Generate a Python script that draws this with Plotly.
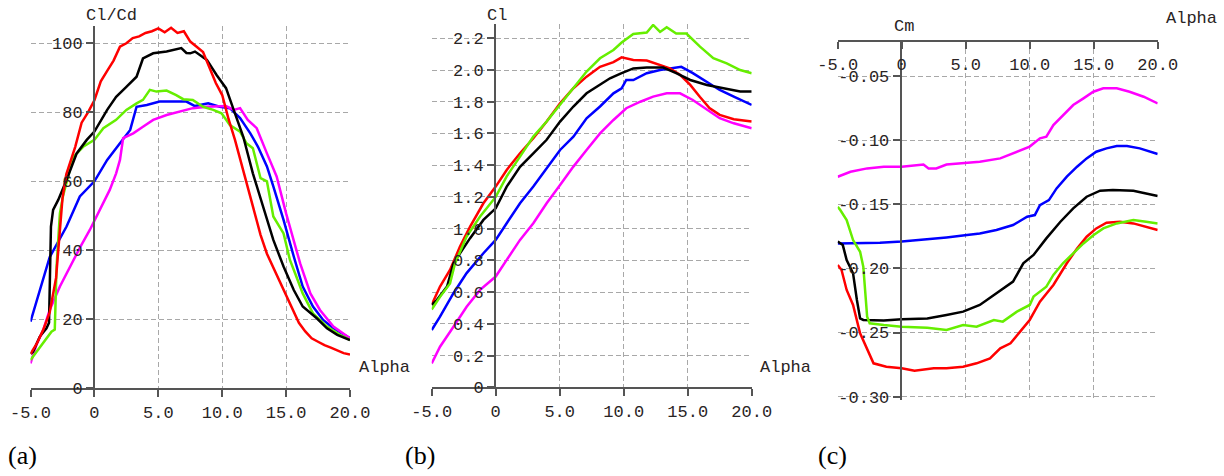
import plotly.graph_objects as go

# ---------------- data: panel (a) Cl/Cd vs Alpha ----------------
a_red_x = [-5, -4.5, -4, -3.5, -3, -2.7, -2.5, -2.2, -1.5, -1, -0.5, 0, 0.5, 1, 1.5, 2, 2.5, 3, 3.5, 4, 4.5, 5, 5.5, 6, 6.5, 7, 7.5, 8, 8.5, 9, 9.5, 10, 10.5, 11, 11.5, 12, 12.5, 13, 13.5, 14, 14.5, 15, 15.5, 16, 16.5, 17, 17.5, 18, 18.5, 19, 19.5, 20]
a_red_y = [10, 13, 17, 22, 32, 45, 55, 62, 70, 77, 80, 83.5, 89, 92, 95, 99, 100, 101.5, 102, 103, 103.5, 104.3, 103.2, 104.5, 103, 103.5, 100.5, 99, 97.5, 93, 88.5, 85, 78, 72, 65, 58, 51, 44.5, 39, 35, 30.5, 26.5, 22.5, 19, 16.5, 14.5, 13.5, 12.5, 11.8, 11, 10.2, 9.8]

a_blk_x = [-5, -4.8, -4.27, -3.75, -3.55, -3.4, -3.23, -2.83, -2.18, -1.4, -0.6, 0, 1, 1.7, 2.5, 3.3, 3.8, 4.6, 5.65, 6.8, 7.2, 7.5, 7.87, 8.8, 9.56, 10.3, 10.9, 11.65, 12.4, 13.2, 14, 14.8, 15.6, 16.3, 17.4, 18.2, 19, 20]
a_blk_y = [10, 10.6, 15, 17.4, 19, 46.9, 51.7, 54.6, 60.4, 68, 72, 74.4, 80.7, 84.5, 87.4, 90.3, 95.6, 97.1, 97.6, 98.6, 97.2, 97.1, 97.6, 95.2, 90.8, 87, 80.7, 72.9, 62.3, 52.7, 43, 35.3, 28.5, 23.7, 20.3, 17.4, 15.5, 14]

a_grn_x = [-5, -4.27, -3.36, -3.1, -2.96, -2.7, -2.44, -1.66, -0.88, 0, 0.7, 1.7, 2.5, 3.3, 3.8, 4.34, 4.86, 5.65, 6.4, 6.95, 7.7, 8.5, 9.3, 9.95, 10.6, 11.4, 11.9, 12.4, 13, 13.5, 14, 14.8, 15.3, 15.8, 16.3, 17.1, 18.2, 19.2, 20]
a_grn_y = [8.2, 12, 16.4, 17, 35.3, 50.7, 56, 67, 70, 72, 75.4, 77.8, 80.7, 82.6, 83.6, 86.5, 86, 86.3, 85, 83.8, 83.6, 81.6, 80.7, 79.7, 76.3, 74.4, 71, 69.6, 60.9, 60, 49.8, 44.9, 37.2, 32.4, 27.5, 21.7, 17.9, 15.5, 14]

a_blu_x = [-5, -4.5, -3.5, -2.18, -1.14, 0, 1, 2, 2.8, 3.3, 4.1, 5.1, 6.2, 7.2, 7.87, 8.9, 9.8, 10.6, 11.4, 12.2, 12.8, 13.5, 14, 14.8, 15.6, 16.3, 17.1, 17.9, 18.7, 20]
a_blu_y = [19.3, 25.6, 38, 46.9, 55.6, 60, 66.2, 71, 74.9, 81.6, 82.1, 83.1, 83.1, 83.1, 81.8, 82.6, 81.6, 81.2, 78.3, 73.9, 70, 64.3, 58.5, 48.8, 38.2, 29.5, 23.7, 19.8, 17.4, 14.5]

a_mag_x = [-5, -4.5, -4, -3.5, -2.7, -1.9, -1.1, -0.36, 0.43, 1.2, 1.7, 2.0, 2.25, 3.04, 3.8, 4.6, 5.65, 6.7, 7.7, 8.8, 9.8, 10.3, 10.9, 11.4, 12, 12.7, 13.5, 14.26, 15, 15.6, 16.1, 16.9, 17.65, 18.7, 20]
a_mag_y = [7.2, 13, 16.9, 22.7, 29.5, 35.3, 41, 45.9, 51.7, 57.5, 62.3, 66.2, 72.5, 73.9, 75.8, 77.8, 79.2, 80.2, 81.2, 81.6, 81.6, 81.8, 80.7, 81.2, 77.8, 75.4, 68.1, 61.4, 50.7, 43, 36.2, 27.5, 22.7, 17.9, 14.5]

# ---------------- data: panel (b) Cl vs Alpha ----------------
b_red_x = [-5, -4.35, -3.57, -2.79, -2, -0.96, 0, 0.86, 1.9, 2.94, 3.98, 5.03, 6.07, 7.1, 8.15, 9.2, 9.84, 10.75, 11.8, 12.84, 13.6, 14.4, 15.2, 15.96, 16.7, 17.5, 18.6, 20]
b_red_y = [0.52, 0.635, 0.74, 0.887, 1.013, 1.16, 1.265, 1.37, 1.475, 1.57, 1.675, 1.79, 1.885, 1.958, 2.02, 2.05, 2.08, 2.063, 2.06, 2.03, 2.01, 1.97, 1.906, 1.83, 1.76, 1.717, 1.69, 1.675]

b_grn_x = [-5, -4.35, -3.57, -3.18, -2.27, -1.22, 0, 0.86, 1.9, 2.94, 3.98, 5.03, 6.07, 7.1, 8.15, 9.2, 9.84, 10.75, 11.8, 12.3, 12.84, 13.36, 14.1, 14.9, 15.96, 17, 18.05, 19.1, 20]
b_grn_y = [0.49, 0.57, 0.655, 0.78, 0.95, 1.076, 1.2, 1.33, 1.454, 1.58, 1.675, 1.78, 1.885, 1.99, 2.074, 2.126, 2.173, 2.227, 2.236, 2.284, 2.24, 2.27, 2.23, 2.23, 2.147, 2.074, 2.042, 2.0, 1.98]

b_blk_x = [-5, -4.6, -3.8, -3.3, -2.79, -2, -0.96, 0, 0.86, 1.9, 2.94, 3.98, 5.03, 6.07, 7.1, 8.15, 8.93, 9.84, 10.75, 11.8, 13.1, 14.1, 15.2, 16.5, 17.8, 19.1, 20]
b_blk_y = [0.52, 0.55, 0.635, 0.78, 0.845, 0.94, 1.055, 1.128, 1.265, 1.39, 1.475, 1.56, 1.675, 1.77, 1.853, 1.906, 1.948, 1.98, 2.01, 2.015, 2.015, 1.98, 1.937, 1.906, 1.885, 1.864, 1.864]

b_blu_x = [-5, -4.35, -3.3, -2.27, -0.96, 0, 0.86, 1.9, 2.94, 3.98, 5.03, 6.07, 7.1, 8.15, 9.2, 9.84, 10.2, 10.75, 11.8, 12.84, 13.9, 14.5, 15.4, 16.5, 17.5, 18.6, 20]
b_blu_y = [0.361, 0.445, 0.593, 0.72, 0.845, 0.929, 1.034, 1.16, 1.265, 1.38, 1.496, 1.58, 1.696, 1.77, 1.853, 1.885, 1.937, 1.937, 1.98, 2.0, 2.01, 2.02, 1.98, 1.927, 1.874, 1.832, 1.78]

b_mag_x = [-5, -4.35, -3.3, -2.27, -1.22, 0, 0.86, 1.9, 2.94, 3.98, 5.03, 6.07, 7.1, 8.15, 9.2, 10.2, 11.3, 12.3, 13.36, 14.4, 15.4, 16.5, 17.5, 18.6, 20]
b_mag_y = [0.151, 0.256, 0.382, 0.508, 0.614, 0.698, 0.803, 0.929, 1.034, 1.16, 1.275, 1.391, 1.496, 1.6, 1.685, 1.759, 1.8, 1.832, 1.853, 1.853, 1.811, 1.748, 1.696, 1.664, 1.633]

# ---------------- data: panel (c) Cm vs Alpha ----------------
c_mag_x = [-5, -4, -2.7, -1.4, 0, 1.7, 2.1, 2.7, 3.5, 4.8, 6.1, 7.7, 8.7, 10, 10.8, 11.3, 11.85, 12.6, 13.4, 14.2, 14.97, 15.75, 16.8, 17.8, 18.9, 20]
c_mag_y = [-0.1285, -0.1246, -0.122, -0.1207, -0.1207, -0.119, -0.122, -0.122, -0.119, -0.118, -0.1168, -0.1142, -0.110, -0.105, -0.0986, -0.0973, -0.0882, -0.0804, -0.0726, -0.0674, -0.0622, -0.0596, -0.0596, -0.0622, -0.0661, -0.0713]

c_blu_x = [-5, -4, -2.7, -1.7, 0, 2, 3.5, 5.1, 6.1, 7.4, 8.7, 9.8, 10.4, 10.8, 11.5, 12.1, 12.9, 13.7, 14.45, 15.2, 16, 16.8, 17.6, 18.6, 20]
c_blu_y = [-0.1805, -0.1805, -0.1805, -0.18, -0.179, -0.1773, -0.1758, -0.174, -0.1727, -0.170, -0.1662, -0.1597, -0.1584, -0.1506, -0.1467, -0.1376, -0.1285, -0.1207, -0.1142, -0.109, -0.1064, -0.1046, -0.1046, -0.1064, -0.1108]

c_blk_x = [-5, -4.6, -4.3, -3.8, -3.5, -3.25, -3, -1.4, 0, 2, 3.5, 4.8, 6.1, 7.4, 8.7, 9.5, 10.3, 11.3, 12.4, 13.4, 14.45, 15.5, 16.5, 18.1, 19.1, 20]
c_blk_y = [-0.179, -0.1818, -0.1935, -0.2038, -0.2246, -0.239, -0.2402, -0.2407, -0.2397, -0.239, -0.2363, -0.2337, -0.2285, -0.2194, -0.2103, -0.196, -0.1895, -0.1766, -0.1636, -0.1532, -0.1441, -0.1394, -0.1389, -0.1394, -0.1415, -0.1436]

c_grn_x = [-5, -4.8, -4.3, -3.8, -3.25, -3, -2.7, -2.5, -1.4, 0, 2, 3.5, 4.8, 5.85, 7.2, 7.9, 9, 10, 10.3, 11.3, 11.85, 12.6, 13.4, 14.2, 15, 15.75, 16.8, 18.1, 19.1, 20]
c_grn_y = [-0.1519, -0.1545, -0.1623, -0.1779, -0.187, -0.1987, -0.2376, -0.2428, -0.2441, -0.2454, -0.2462, -0.248, -0.2441, -0.2454, -0.2402, -0.2415, -0.2337, -0.2285, -0.222, -0.2142, -0.2051, -0.196, -0.1882, -0.1805, -0.174, -0.1688, -0.1649, -0.1623, -0.1636, -0.1649]

c_red_x = [-5, -4.7, -4.3, -3.8, -3.25, -2.7, -2.2, -1.2, 0, 1, 2.5, 3.5, 4.8, 5.85, 6.9, 7.7, 8.5, 9.25, 10, 10.8, 11.85, 12.9, 13.7, 14.45, 15.2, 16, 17.05, 18.1, 19.1, 20]
c_red_y = [-0.1973, -0.2012, -0.2168, -0.2285, -0.2506, -0.2636, -0.274, -0.2766, -0.2779, -0.2797, -0.2779, -0.2779, -0.2766, -0.274, -0.2701, -0.2623, -0.2584, -0.2493, -0.2402, -0.2259, -0.2129, -0.196, -0.1844, -0.1753, -0.1688, -0.1643, -0.1636, -0.1649, -0.1675, -0.1701]

# ---------------- tick labels ----------------
x_tickvals = [-5, 0, 5, 10, 15, 20]
x_ticktext = ["-5.0", "0", "5.0", "10.0", "15.0", "20.0"]
a_tickvals = [0, 20, 40, 60, 80, 100]
a_ticktext = ["0", "20", "40", "60", "80", "100"]
b_tickvals = [0, 0.2, 0.4, 0.6, 0.8, 1.0, 1.2, 1.4, 1.6, 1.8, 2.0, 2.2]
b_ticktext = ["0", "0.2", "0.4", "0.6", "0.8", "1.0", "1.2", "1.4", "1.6", "1.8", "2.0", "2.2"]
c_tickvals = [-0.30, -0.25, -0.20, -0.15, -0.10, -0.05]
c_ticktext = ["-0.30", "-0.25", "-0.20", "-0.15", "-0.10", "-0.05"]

RED, BLACK, GREEN, BLUE, MAG = "#ff0000", "#000000", "#66ee00", "#0000ff", "#ff00ff"
W = 2.5

fig = go.Figure()

def add(x, y, color, xa, ya):
    fig.add_trace(go.Scatter(x=x, y=y, mode="lines", line=dict(color=color, width=W),
                             xaxis=xa, yaxis=ya, showlegend=False, hoverinfo="skip"))

# panel a
add(a_blu_x, a_blu_y, BLUE, "x", "y")
add(a_mag_x, a_mag_y, MAG, "x", "y")
add(a_grn_x, a_grn_y, GREEN, "x", "y")
add(a_blk_x, a_blk_y, BLACK, "x", "y")
add(a_red_x, a_red_y, RED, "x", "y")
# panel b
add(b_mag_x, b_mag_y, MAG, "x2", "y2")
add(b_blu_x, b_blu_y, BLUE, "x2", "y2")
add(b_red_x, b_red_y, RED, "x2", "y2")
add(b_blk_x, b_blk_y, BLACK, "x2", "y2")
add(b_grn_x, b_grn_y, GREEN, "x2", "y2")
# panel c
add(c_mag_x, c_mag_y, MAG, "x3", "y3")
add(c_blu_x, c_blu_y, BLUE, "x3", "y3")
add(c_blk_x, c_blk_y, BLACK, "x3", "y3")
add(c_red_x, c_red_y, RED, "x3", "y3")
add(c_grn_x, c_grn_y, GREEN, "x3", "y3")

FONT = dict(family="Liberation Mono, Courier New, monospace", size=17, color="#2a2424")
GRID = "#a8a8a8"
AXC = "#555555"
DASH = "5px,3px"

def xax(domain, anchor, position=None, side="bottom"):
    d = dict(domain=domain, range=[-5, 20], tickvals=x_tickvals, ticktext=x_ticktext,
             showgrid=True, gridcolor=GRID, griddash=DASH, gridwidth=1,
             showline=True, linecolor=AXC, linewidth=2, ticks="outside", ticklen=7,
             tickwidth=2, tickcolor=AXC, tickfont=FONT, zeroline=False, side=side,
             anchor=anchor, automargin=False)
    if position is not None:
        d["position"] = position
    return d

def yax(domain, rng, tv, tt, position):
    return dict(domain=domain, range=rng, tickvals=tv, ticktext=tt,
                showgrid=True, gridcolor=GRID, griddash=DASH, gridwidth=1,
                showline=True, linecolor=AXC, linewidth=2, ticks="outside", ticklen=7,
                tickwidth=2, tickcolor=AXC, tickfont=FONT, zeroline=False,
                anchor="free", position=position, ticklabelstandoff=0, automargin=False)

W_PX, H_PX = 1224, 476
def px_x(p):
    return p / W_PX
def px_y(p):
    return 1 - p / H_PX

fig.update_layout(
    width=W_PX, height=H_PX,
    margin=dict(l=0, r=0, t=0, b=0, pad=0, autoexpand=False),
    paper_bgcolor="white", plot_bgcolor="white",
    xaxis=xax([px_x(30.5), px_x(350)], "y"),
    yaxis=yax([px_y(388.3), px_y(388.3 - 105.0 * 3.45)], [0, 105.0], a_tickvals, a_ticktext, px_x(94)),
    xaxis2=xax([px_x(431.7), px_x(751.7)], "y2"),
    yaxis2=yax([px_y(387.3), px_y(387.3 - 2.29 * 158.65)], [0, 2.29], b_tickvals, b_ticktext, px_x(495)),
    xaxis3=xax([px_x(837.7), px_x(1157.7)], "free", position=px_y(41.3), side="bottom"),
    yaxis3=yax([px_y(400), px_y(41.3)], [-0.3026, -0.0229], c_tickvals, c_ticktext, px_x(900.7)),
)

TFONT = dict(family="Liberation Mono, Courier New, monospace", size=17, color="#2a2424")
SFONT = dict(family="Liberation Serif, Times New Roman, serif", size=26, color="#000000")
ann = [
    ("Cl/Cd", 112, 16, "center", TFONT),
    ("Alpha", 357, 367, "left", TFONT),
    ("Cl", 497, 15, "center", TFONT),
    ("Alpha", 758, 367, "left", TFONT),
    ("Cm", 904, 26, "center", TFONT),
    ("Alpha", 1164, 19, "left", TFONT),
    ("(a)", 6, 455, "left", SFONT),
    ("(b)", 403, 455, "left", SFONT),
    ("(c)", 816, 455, "left", SFONT),
]
for text, x, y, xa, f in ann:
    fig.add_annotation(text=text, x=px_x(x), y=px_y(y), xref="paper", yref="paper",
                       xanchor=xa, yanchor="middle", showarrow=False, font=f)

fig.write_html("out.html", config={"displayModeBar": False, "staticPlot": True},
               post_script="document.body.style.margin='0px';document.body.style.overflow='hidden';")
